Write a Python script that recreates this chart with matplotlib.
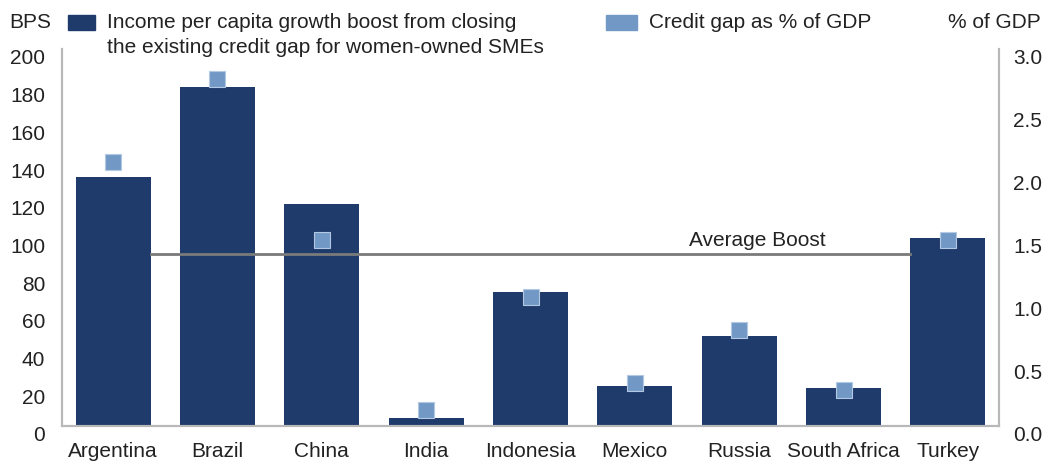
import matplotlib
matplotlib.use("Agg")
import matplotlib.pyplot as plt
from matplotlib.patches import Rectangle
from matplotlib.transforms import ScaledTranslation
import numpy as np

plt.rcParams['font.family'] = ['Liberation Sans', 'DejaVu Sans']

countries = ['Argentina', 'Brazil', 'China', 'India', 'Indonesia',
             'Mexico', 'Russia', 'South Africa', 'Turkey']
boost_bps = [132, 180, 118, 4, 71, 21, 48, 20, 100]
credit_gap = [2.10, 2.76, 1.48, 0.13, 1.03, 0.34, 0.76, 0.29, 1.48]
avg_boost = 91

left_ticks = [0, 20, 40, 60, 80, 100, 120, 140, 160, 180, 200]
right_ticks = [0.0, 0.5, 1.0, 1.5, 2.0, 2.5, 3.0]
bar_label = 'Income per capita growth boost from closing\nthe existing credit gap for women-owned SMEs'
gap_label = 'Credit gap as % of GDP'

bar_col = '#1F3B6B'
gap_col = '#7299C6'
txt_col = '#222222'
spine_col = '#b8b8b8'
fs = 15

fig = plt.figure(figsize=(10.45, 4.64), dpi=100)
ax = fig.add_axes([62/1045, 1-427/464, (999-62)/1045, (427-50)/464])
ax2 = ax.twinx()

x = np.arange(len(countries))
ax.bar(x, boost_bps, width=0.72, color=bar_col, zorder=2)
ax.plot([0.36, 7.64], [avg_boost, avg_boost], color='#7a7a7a', lw=2, zorder=3)
ax.annotate('Average Boost', xy=(6.17, avg_boost), xytext=(0, 4),
            textcoords='offset points', ha='center', va='bottom',
            fontsize=fs, color=txt_col)

ax2.plot(x, credit_gap, 's', ms=12, color=gap_col, mec='#b3c8e2', mew=0.8,
         zorder=4)

ax.set_xlim(-0.49, 8.49)
ax.set_ylim(0, 200)
ax2.set_ylim(0, 3)
ax.set_xticks(x)
ax.set_xticklabels(countries)
ax.set_yticks(left_ticks)
ax2.set_yticks(right_ticks)
ax2.set_yticklabels(['%.1f' % t for t in right_ticks])

for a in (ax, ax2):
    a.spines['top'].set_visible(False)
    for s in ('left', 'right', 'bottom'):
        a.spines[s].set_color(spine_col)
        a.spines[s].set_linewidth(1.5)
    a.tick_params(length=0, labelsize=fs, labelcolor=txt_col)
ax.tick_params(axis='y', pad=12)
ax.tick_params(axis='x', pad=11)
ax2.tick_params(axis='y', pad=10)

# excel-style labels sit a bit below their gridline position
off = ScaledTranslation(0, -7/100, fig.dpi_scale_trans)
for lab in ax.get_yticklabels() + ax2.get_yticklabels():
    lab.set_transform(lab.get_transform() + off)

# axis titles
fig.text(9/1045, 1-22/464, 'BPS', fontsize=fs, color=txt_col, va='center')
fig.text(1041/1045, 1-22/464, '% of GDP', fontsize=fs, color=txt_col,
         va='center', ha='right')

# legend drawn by hand
fig.patches.append(Rectangle((68/1045, 1-31/464), 27/1045, 15/464,
                             transform=fig.transFigure, color=bar_col))
fig.text(107/1045, 1-13/464, bar_label, fontsize=fs, color=txt_col,
         va='top', linespacing=1.38)
fig.patches.append(Rectangle((606/1045, 1-31/464), 31/1045, 15/464,
                             transform=fig.transFigure, color=gap_col))
fig.text(649/1045, 1-22/464, gap_label, fontsize=fs, color=txt_col,
         va='center')

fig.savefig('out.png', dpi=100)
